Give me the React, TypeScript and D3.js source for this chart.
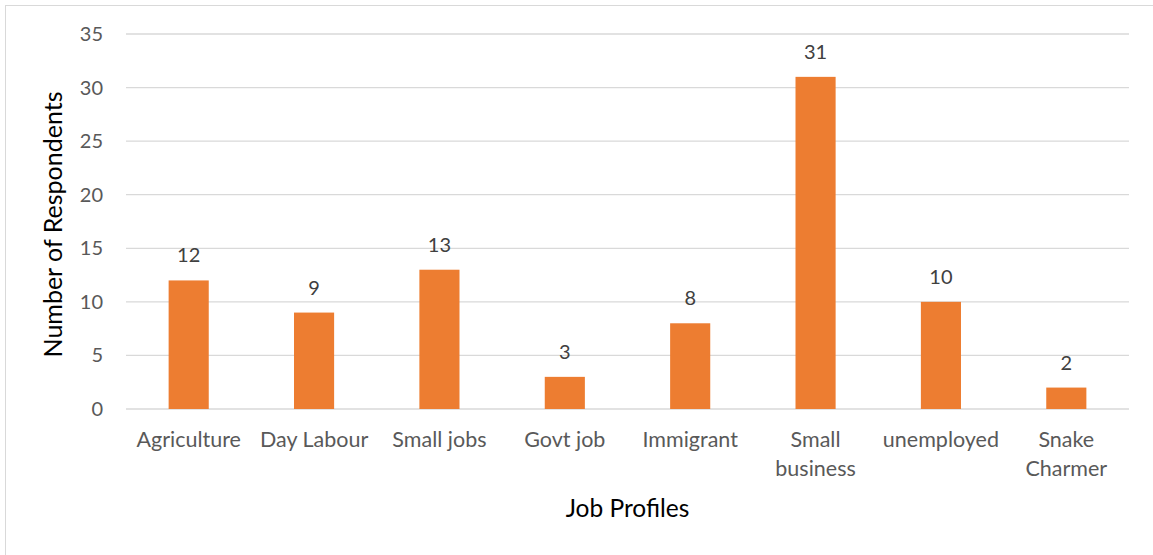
import React from "react";
import * as d3 from "d3";

const categories: string[][] = [
  ["Agriculture"],
  ["Day Labour"],
  ["Small jobs"],
  ["Govt job"],
  ["Immigrant"],
  ["Small", "business"],
  ["unemployed"],
  ["Snake", "Charmer"],
];
const values: number[] = [12, 9, 13, 3, 8, 31, 10, 2];
const yTicks: number[] = [0, 5, 10, 15, 20, 25, 30, 35];
const yTitle = "Number of Respondents";
const xTitle = "Job Profiles";

const W = 1153;
const H = 555;
const FONT = "Lato, 'Open Sans', sans-serif";

export default function App() {
  const left = 126;
  const right = 1129;
  const top = 34;
  const bottom = 409;
  const keys = categories.map((c) => c.join(" "));
  const x = d3
    .scaleBand<string>()
    .domain(keys)
    .range([left, right])
    .paddingInner(0.68)
    .paddingOuter(0.34);
  const y = d3.scaleLinear().domain([0, 35]).range([bottom, top]);

  return (
    <svg
      width={W}
      height={H}
      style={{ position: "absolute", left: 0, top: 0, display: "block" }}
      fontFamily={FONT}
    >
      <rect x={0} y={0} width={W} height={H} fill="#fff" />
      <rect
        x={5.5}
        y={5.5}
        width={W + 10}
        height={H + 10}
        fill="none"
        stroke="#D9D9D9"
        strokeWidth={1}
      />
      {yTicks.map((t) => (
        <g key={t}>
          <line
            x1={left}
            x2={right}
            y1={y(t)}
            y2={y(t)}
            stroke="#D9D9D9"
            strokeWidth={1.3}
          />
          <text
            x={103}
            y={y(t)}
            dy="0.35em"
            textAnchor="end"
            fontSize={20}
            fill="#595959"
          >
            {t}
          </text>
        </g>
      ))}
      {values.map((v, i) => {
        const k = keys[i];
        const bx = x(k)!;
        const cx = bx + x.bandwidth() / 2;
        return (
          <g key={k}>
            <rect
              x={bx}
              y={y(v)}
              width={x.bandwidth()}
              height={y(0) - y(v)}
              fill="#ED7D31"
            />
            <text
              x={cx}
              y={y(v) - 18}
              textAnchor="middle"
              fontSize={20}
              fill="#404040"
            >
              {v}
            </text>
            {categories[i].map((line, j) => (
              <text
                key={j}
                x={cx}
                y={447 + j * 28.5}
                textAnchor="middle"
                fontSize={21.5}
                fill="#595959"
              >
                {line}
              </text>
            ))}
          </g>
        );
      })}
      <text
        transform={`translate(62, ${(top + bottom) / 2 + 3}) rotate(-90)`}
        textAnchor="middle"
        fontSize={25}
        fill="#000"
      >
        {yTitle}
      </text>
      <text
        x={(left + right) / 2}
        y={517}
        textAnchor="middle"
        fontSize={24.5}
        fill="#000"
      >
        {xTitle}
      </text>
    </svg>
  );
}
